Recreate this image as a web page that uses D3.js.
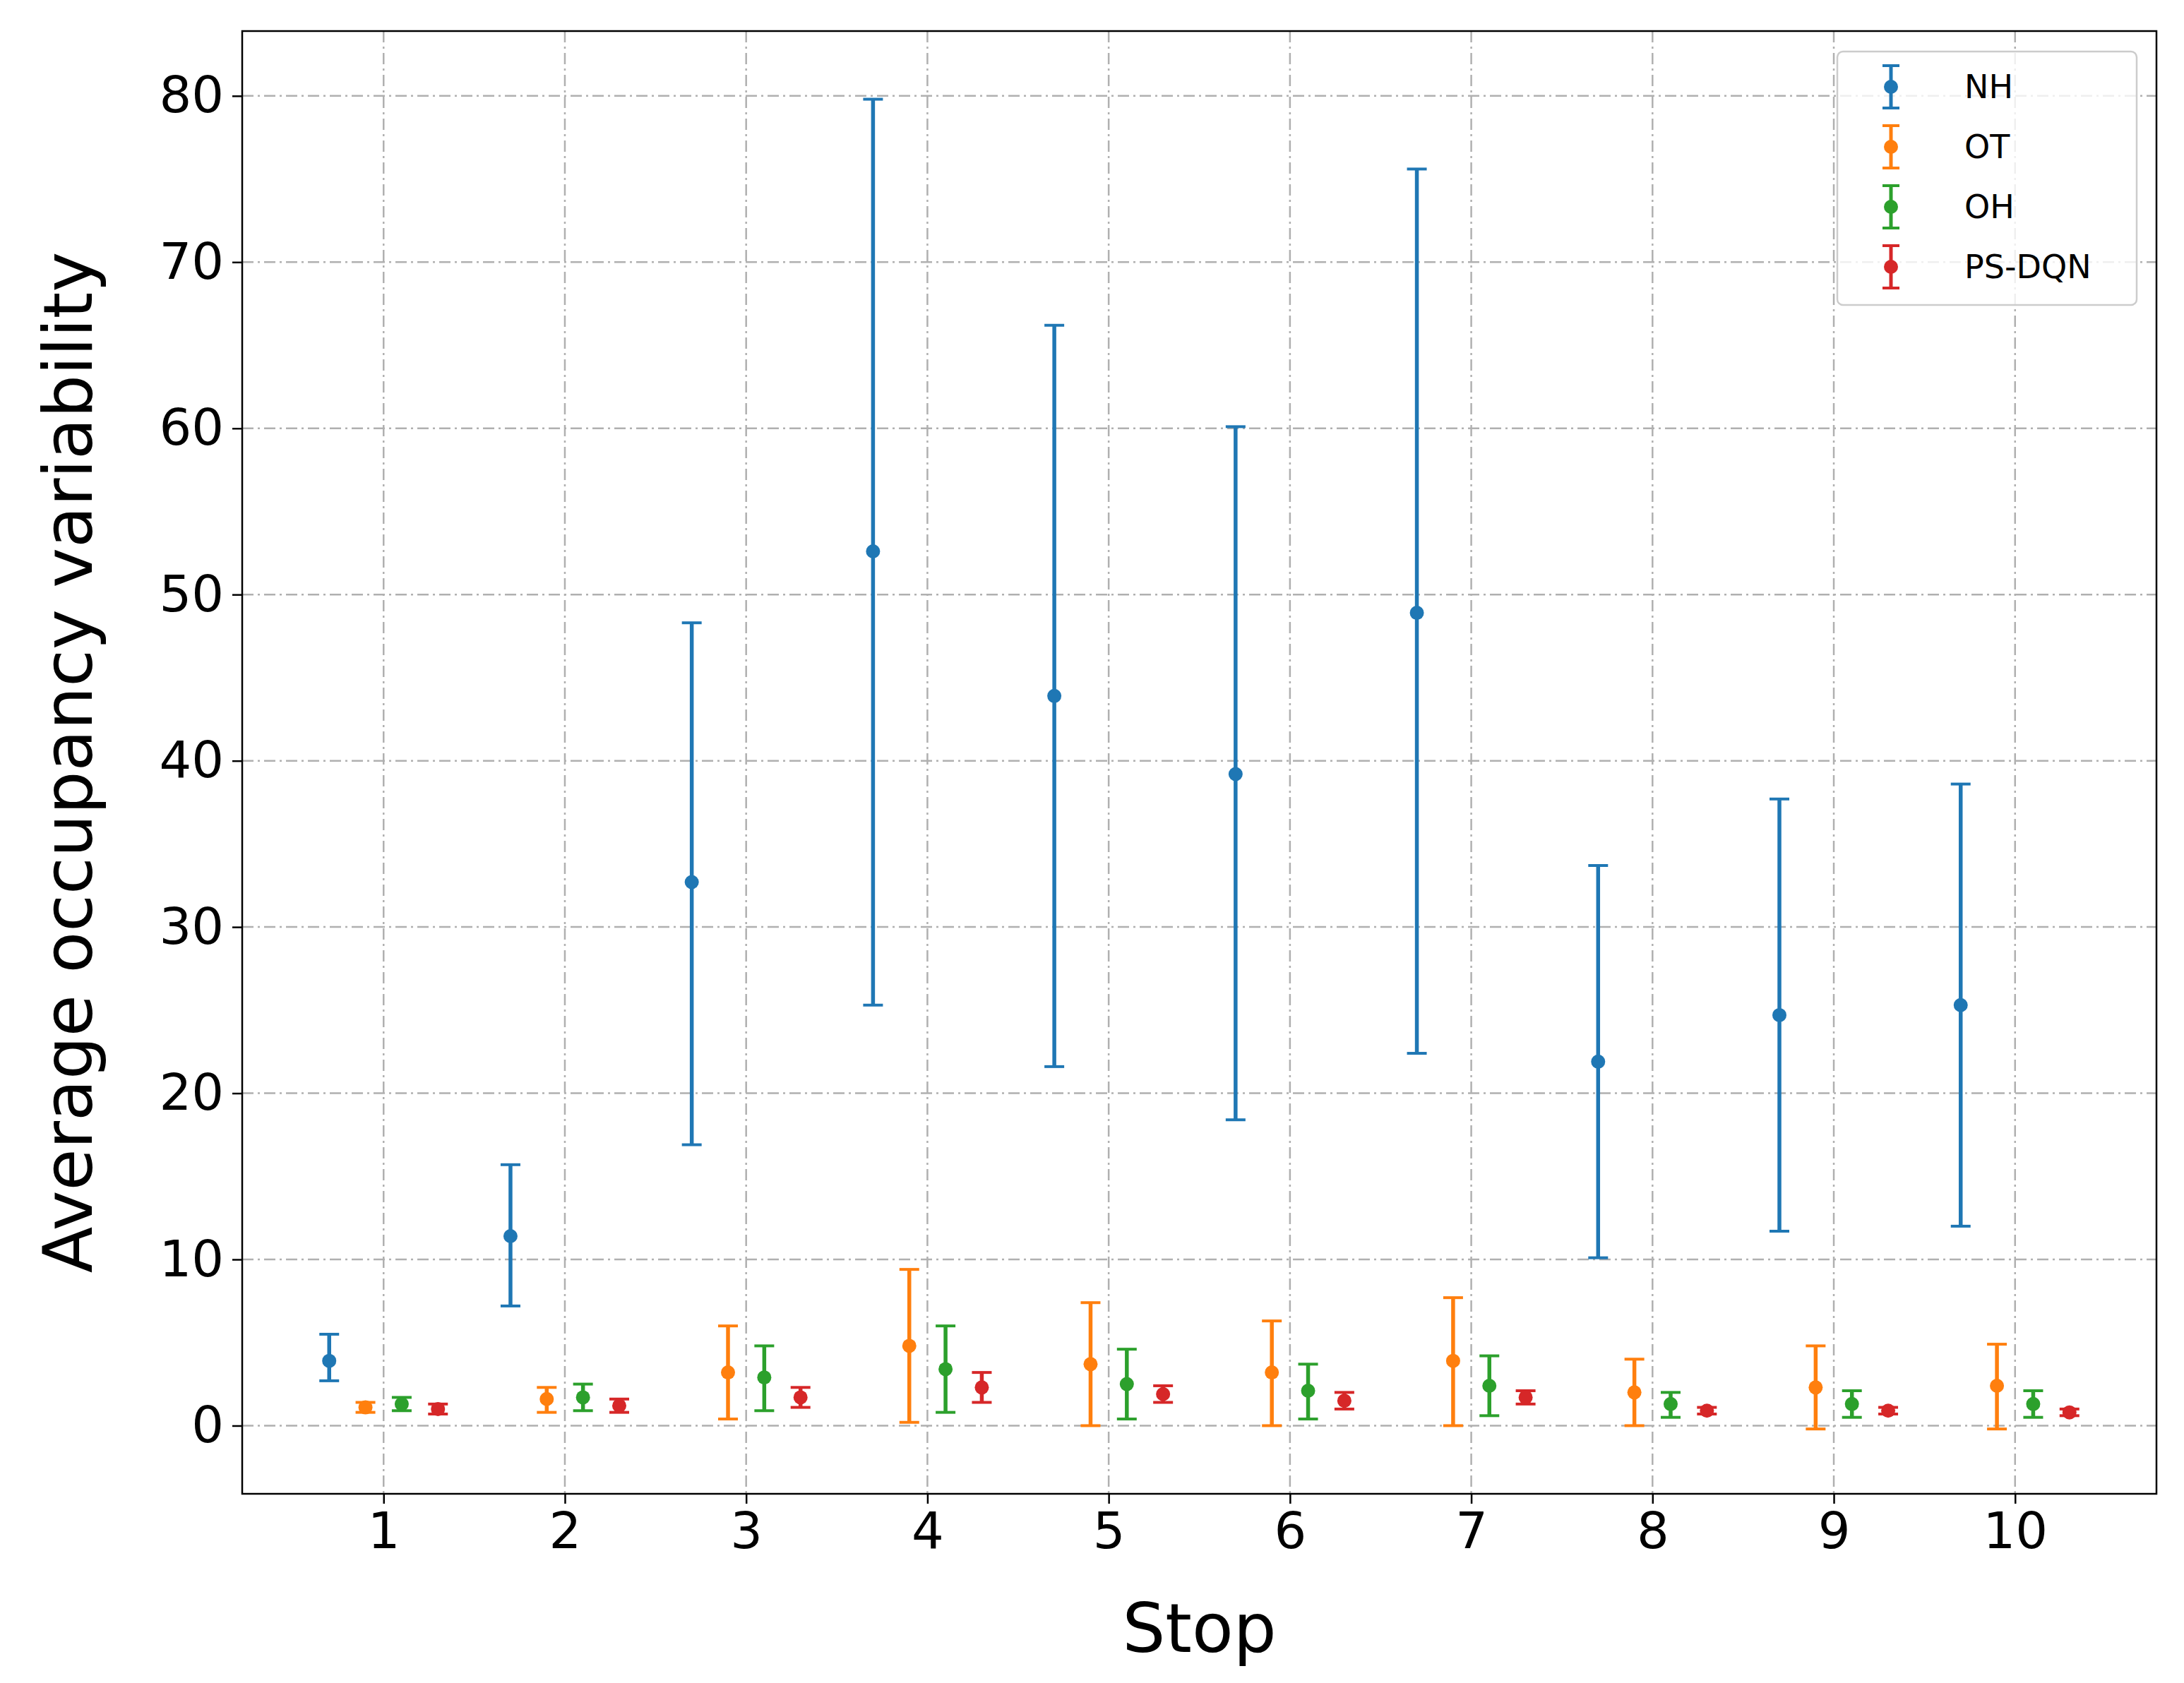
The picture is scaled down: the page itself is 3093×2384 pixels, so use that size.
<!DOCTYPE html>
<html><head><meta charset="utf-8">
<script src="https://cdn.jsdelivr.net/npm/d3@7"></script>
<style>body{margin:0;background:#fff}svg{display:block;font-family:"DejaVu Sans",sans-serif}</style>
</head><body><svg></svg>
<script>
let stops = [1,2,3,4,5,6,7,8,9,10];
let seriesNames = ["NH","OT","OH","PS-DQN"];
let colors = ["#1f77b4","#ff7f0e","#2ca02c","#d62728"];
let offsets = [-0.3,-0.1,0.1,0.3];
let nhMean = [3.9,11.4,32.7,52.6,43.9,39.2,48.9,21.9,24.7,25.3];
let nhLow  = [2.7,7.2,16.9,25.3,21.6,18.4,22.4,10.1,11.7,12.0];
let nhHigh = [5.5,15.7,48.3,79.8,66.2,60.1,75.6,33.7,37.7,38.6];
let otMean = [1.1,1.6,3.2,4.8,3.7,3.2,3.9,2.0,2.3,2.4];
let otLow  = [0.8,0.8,0.4,0.2,0.0,0.0,0.0,0.0,-0.2,-0.2];
let otHigh = [1.4,2.3,6.0,9.4,7.4,6.3,7.7,4.0,4.8,4.9];
let ohMean = [1.3,1.7,2.9,3.4,2.5,2.1,2.4,1.3,1.3,1.3];
let ohLow  = [0.9,0.9,0.9,0.8,0.4,0.4,0.6,0.5,0.5,0.5];
let ohHigh = [1.7,2.5,4.8,6.0,4.6,3.7,4.2,2.0,2.1,2.1];
let psMean = [1.0,1.2,1.7,2.3,1.9,1.5,1.7,0.9,0.9,0.8];
let psLow  = [0.7,0.8,1.1,1.4,1.4,1.0,1.3,0.7,0.7,0.6];
let psHigh = [1.3,1.6,2.3,3.2,2.4,2.0,2.1,1.1,1.1,1.0];
let yTicks = [0,10,20,30,40,50,60,70,80];

let means = [nhMean,otMean,ohMean,psMean];
let lows = [nhLow,otLow,ohLow,psLow];
let highs = [nhHigh,otHigh,ohHigh,psHigh];

let W = 3093, H = 2384;
let svg = d3.select("svg").attr("width",W).attr("height",H);
let m = {left:343, right:3054, top:44, bottom:2116};
let x = d3.scaleLinear().domain([0.22,10.78]).range([m.left,m.right]);
let y = d3.scaleLinear().domain([-4.1,83.9]).range([m.bottom,m.top]);

let grid = svg.append("g").attr("stroke","#b0b0b0").attr("stroke-width",2.5).attr("stroke-dasharray","16,6,3,6");
grid.selectAll(".gx").data(stops).enter().append("line")
	.attr("x1",d=>x(d)).attr("x2",d=>x(d)).attr("y1",m.top).attr("y2",m.bottom);
grid.selectAll(".gy").data(yTicks).enter().append("line")
	.attr("x1",m.left).attr("x2",m.right).attr("y1",d=>y(d)).attr("y2",d=>y(d));

let xaxis = d3.axisBottom(x).tickValues(stops).tickSize(14).tickPadding(12);
let yaxis = d3.axisLeft(y).tickValues(yTicks).tickSize(14).tickPadding(12);
let gx = svg.append("g").attr("transform","translate(0,"+m.bottom+")").call(xaxis);
let gy = svg.append("g").attr("transform","translate("+m.left+",0)").call(yaxis);
[gx,gy].forEach(g=>{
	g.select(".domain").remove();
	g.selectAll("line").attr("stroke","#000").attr("stroke-width",2.5);
	g.selectAll("text").attr("font-size",72).attr("fill","#000").attr("font-family","DejaVu Sans");
});
svg.append("rect").attr("x",m.left).attr("y",m.top).attr("width",m.right-m.left).attr("height",m.bottom-m.top)
	.attr("fill","none").attr("stroke","#000").attr("stroke-width",2.5);

svg.append("text").attr("x",(m.left+m.right)/2).attr("y",2340).attr("text-anchor","middle")
	.attr("font-size",96).text("Stop");
svg.append("text").attr("transform","translate(130,"+((m.top+m.bottom)/2)+")rotate(-90)")
	.attr("text-anchor","middle").attr("font-size",96).text("Average occupancy variability");

let cap = 14;
seriesNames.forEach(function(name,i){
	let data = stops.map((s,j)=>({s:s,mean:means[i][j],lo:lows[i][j],hi:highs[i][j]}));
	let g = svg.append("g").attr("stroke",colors[i]).attr("fill",colors[i]).attr("stroke-width",5.5);
	let xs = d=>x(d.s+offsets[i]);
	g.selectAll(".v").data(data).enter().append("line")
		.attr("x1",xs).attr("x2",xs).attr("y1",d=>y(d.lo)).attr("y2",d=>y(d.hi));
	g.selectAll(".ct").data(data).enter().append("line")
		.attr("x1",d=>xs(d)-cap).attr("x2",d=>xs(d)+cap).attr("y1",d=>y(d.hi)).attr("y2",d=>y(d.hi)).attr("stroke-width",4);
	g.selectAll(".cb").data(data).enter().append("line")
		.attr("x1",d=>xs(d)-cap).attr("x2",d=>xs(d)+cap).attr("y1",d=>y(d.lo)).attr("y2",d=>y(d.lo)).attr("stroke-width",4);
	g.selectAll("circle").data(data).enter().append("circle")
		.attr("cx",xs).attr("cy",d=>y(d.mean)).attr("r",10).attr("stroke","none");
});

// legend
let lg = svg.append("g").attr("transform","translate(2602,73)");
lg.append("rect").attr("width",424).attr("height",359).attr("rx",8).attr("fill","#fff")
	.attr("fill-opacity",0.8).attr("stroke","#ccc").attr("stroke-width",2.5);
seriesNames.forEach(function(name,i){
	let cy = 50 + i*85, lx = 76;
	let e = lg.append("g").attr("stroke",colors[i]).attr("fill",colors[i]);
	e.append("line").attr("x1",lx).attr("x2",lx).attr("y1",cy-30).attr("y2",cy+30).attr("stroke-width",5);
	e.append("line").attr("x1",lx-12).attr("x2",lx+12).attr("y1",cy-30).attr("y2",cy-30).attr("stroke-width",4);
	e.append("line").attr("x1",lx-12).attr("x2",lx+12).attr("y1",cy+30).attr("y2",cy+30).attr("stroke-width",4);
	e.append("circle").attr("cx",lx).attr("cy",cy).attr("r",10).attr("stroke","none");
	lg.append("text").attr("x",180).attr("y",cy+16).attr("font-size",46).text(name);
});
</script></body></html>
